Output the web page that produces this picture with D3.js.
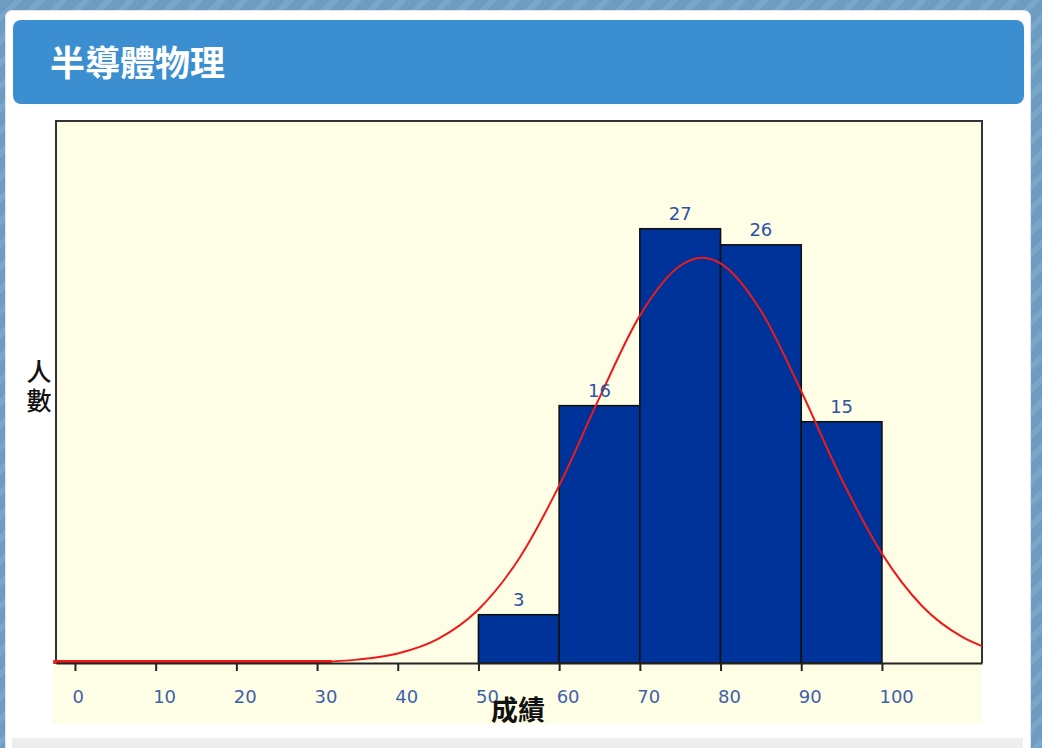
<!DOCTYPE html>
<html><head><meta charset="utf-8">
<script src="https://cdn.jsdelivr.net/npm/d3@7"></script>
<style>
html,body{margin:0;padding:0;width:1042px;height:748px;overflow:hidden;}
body{background:repeating-linear-gradient(135deg,#6d9bc2 0px,#6d9bc2 10px,#7aa6cc 10px,#7aa6cc 16px);position:relative;font-family:"Noto Sans CJK TC","Noto Sans",sans-serif;}
#card{position:absolute;left:5px;top:10px;width:1024px;height:760px;background:#fff;border:1px solid #dfe6ec;border-radius:7px;}
#head{position:absolute;left:13px;top:20px;width:1011px;height:84px;background:#3b8fd1;border-radius:8px;}
#title{position:absolute;left:50px;top:39px;color:#fff;font-size:35px;font-weight:700;line-height:44px;}
#foot{position:absolute;left:12px;top:738px;width:1011px;height:20px;background:#eeeeee;}
svg{position:absolute;left:0;top:0;}
</style></head>
<body>
<div id="card"></div>
<div id="head"></div>
<div id="title">半導體物理</div>
<div id="foot"></div>
<svg id="chart" width="1042" height="748"></svg>
<script>
// ---- data ----
const binStarts = [50, 60, 70, 80, 90];
const binWidth = 10;
const counts = [3, 16, 27, 26, 15];
const tickValues = [0, 10, 20, 30, 40, 50, 60, 70, 80, 90, 100];
const xTitle = "成績";
const yTitle = "人數";
// normal curve
const curveX = [30, 35, 40, 45, 50, 55, 60, 65, 70, 75, 77.7, 80, 85, 90, 95, 100, 105, 110, 112.4];
const curveY = [0.06, 0.21, 0.59, 1.5, 3.33, 6.47, 11.03, 16.5, 21.6, 24.7, 25.2, 24.85, 21.9, 16.9, 11.44, 6.8, 3.53, 1.61, 1.05];
const flatTailX = [-2.7, 31.8];

// ---- layout ----
const L = 56, R = 982, T = 121, B = 663;
const svg = d3.select("#chart");
const x = d3.scaleLinear().domain([-2.35, 112.4]).range([L, R]);
const y = d3.scaleLinear().domain([0, 33.7]).range([B, T]);

// cream background incl. label band
svg.append("rect").attr("x", 53).attr("y", B).attr("width", R - 53).attr("height", 61).attr("fill", "#fefde6");
svg.append("rect").attr("x", L).attr("y", T).attr("width", R - L).attr("height", B - T)
  .attr("fill", "#fefde6");

// bars
svg.append("g").selectAll("rect").data(counts).join("rect")
  .attr("x", (d, i) => x(binStarts[i]))
  .attr("width", (d, i) => x(binStarts[i] + binWidth) - x(binStarts[i]))
  .attr("y", d => y(d))
  .attr("height", d => y(0) - y(d))
  .attr("fill", "#003399").attr("stroke", "#111").attr("stroke-width", 1.6);

// frame (top, right, left)
svg.append("path").attr("d", `M${L},${B}V${T}H${R}V${B}`).attr("fill", "none")
  .attr("stroke", "#333").attr("stroke-width", 2);

// curve
const line = d3.line().x(d => x(d[0])).y(d => y(d[1])).curve(d3.curveMonotoneX);
svg.append("path").datum(curveX.map((v, i) => [v, curveY[i]]))
  .attr("d", line).attr("fill", "none").attr("stroke", "#ee1a1a").attr("stroke-width", 2);
svg.append("path").datum(flatTailX.map(v => [v, 0]))
  .attr("d", line).attr("fill", "none").attr("stroke", "#ee1a1a").attr("stroke-width", 4)
  .attr("transform", "translate(0,-1)");

// x axis
const ax = svg.append("g").attr("transform", `translate(0,${B})`)
  .call(d3.axisBottom(x).tickValues(tickValues).tickSize(8).tickSizeOuter(0).tickPadding(19));
ax.select(".domain").attr("stroke", "#222").attr("stroke-width", 2);
ax.selectAll(".tick line").attr("stroke", "#222").attr("stroke-width", 2);
ax.selectAll(".tick text").attr("text-anchor", "start").attr("x", -3)
  .attr("font-family", "DejaVu Sans, Verdana, sans-serif").attr("font-size", 18)
  .attr("fill", "#3e62a8");

// value labels
svg.append("g").selectAll("text").data(counts).join("text")
  .attr("x", (d, i) => x(binStarts[i] + binWidth / 2))
  .attr("y", d => y(d) - 9)
  .attr("text-anchor", "middle")
  .attr("font-family", "DejaVu Sans, Verdana, sans-serif").attr("font-size", 18)
  .attr("fill", "#2f52a0")
  .text(d => d);

// axis titles
svg.append("text").attr("x", 518).attr("y", 720).attr("text-anchor", "middle")
  .attr("font-family", "Noto Sans CJK TC").attr("font-size", 27).attr("font-weight", 700)
  .attr("fill", "#111").text(xTitle);
svg.append("text").attr("x", 39).attr("y", 359)
  .style("writing-mode", "vertical-rl").style("letter-spacing", "4px")
  .attr("font-family", "Noto Sans CJK TC").attr("font-size", 25).attr("font-weight", 500)
  .attr("fill", "#111").text(yTitle);
</script>
</body></html>
